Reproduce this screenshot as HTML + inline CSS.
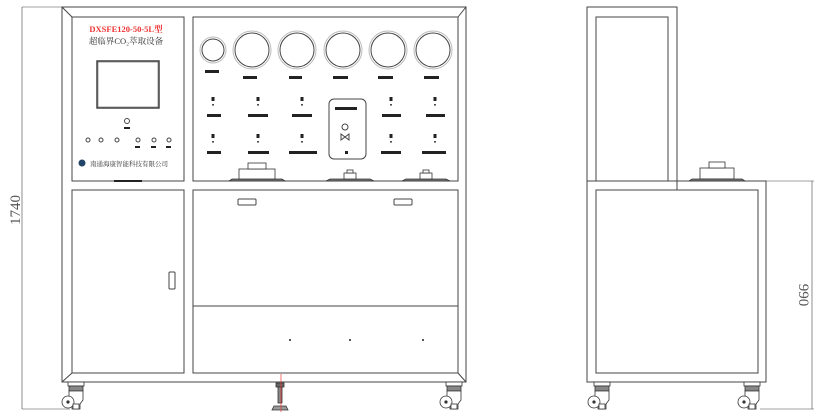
<!DOCTYPE html>
<html><head><meta charset="utf-8"><style>
html,body{margin:0;padding:0;background:#fff;}
svg{display:block;}
text{font-family:"Liberation Serif","Noto Serif CJK SC",serif;}
</style></head><body>
<svg width="820" height="415" viewBox="0 0 820 415" xmlns="http://www.w3.org/2000/svg">
<defs>
<g id="caster" stroke="#333" stroke-width="0.8" fill="#fff">
  <rect x="-8" y="0" width="16" height="4"/>
  <rect x="-7" y="4" width="14" height="5" fill="#888"/>
  <path d="M-7 9 L7 9 L7 18 L4 22 L4 27 L-4 27 L-4 22 L-7 18 Z"/>
  <circle cx="-8" cy="20" r="6"/>
  <circle cx="-8" cy="20" r="1.2" fill="#333"/>
  <rect x="-3" y="22" width="6" height="5"/>
</g>
<g id="valve" fill="#222">
  <rect x="-1.5" y="-8" width="3" height="4"/>
  <rect x="-0.8" y="-1" width="1.6" height="1.6"/>
</g>
<g id="pump" stroke="#333" stroke-width="0.8" fill="#fff">
  <path d="M-20 0 L20 0 L24 2 L-24 2 Z" fill="#777"/>
  <rect x="-6" y="-6" width="12" height="6"/>
  <rect x="-3" y="-9" width="6" height="3"/>
</g>
</defs>
<g fill="none" stroke="#444" stroke-width="1">
<rect x="62" y="7" width="404" height="375"/>
<line x1="62" y1="7" x2="72" y2="17"/><line x1="466" y1="7" x2="458" y2="17"/>
<line x1="62" y1="382" x2="72" y2="373"/><line x1="466" y1="382" x2="458" y2="373"/>
<rect x="72" y="17" width="112" height="164"/>
<rect x="193" y="17" width="265" height="164"/>
<rect x="72" y="190" width="112" height="183"/>
<rect x="193" y="190" width="265" height="183"/>
<line x1="193" y1="306" x2="458" y2="306"/>
<rect x="97" y="61" width="62" height="47" stroke-width="1.5"/>
<rect x="98" y="62" width="60" height="45" stroke-width="0.5"/>
<rect x="238" y="199" width="18" height="6" rx="1"/>
<rect x="394" y="199" width="18" height="6" rx="1"/>
<rect x="169" y="272" width="6" height="17" rx="1"/>
<rect x="329" y="99" width="37" height="60" rx="5"/>
<circle cx="213" cy="50" r="11"/><circle cx="213" cy="50" r="13" stroke="#bbb"/>
<circle cx="252" cy="50" r="17"/><circle cx="252" cy="50" r="19" stroke="#bbb"/>
<circle cx="297" cy="50" r="17"/><circle cx="297" cy="50" r="19" stroke="#bbb"/>
<circle cx="343" cy="50" r="17"/><circle cx="343" cy="50" r="19" stroke="#bbb"/>
<circle cx="388" cy="50" r="17"/><circle cx="388" cy="50" r="19" stroke="#bbb"/>
<circle cx="433" cy="50" r="17"/><circle cx="433" cy="50" r="19" stroke="#bbb"/>
<circle cx="127" cy="121" r="2.5"/>
<circle cx="88" cy="140" r="2"/><circle cx="101" cy="140" r="2"/><circle cx="117" cy="140" r="2"/>
<circle cx="138" cy="140" r="2"/><circle cx="154" cy="140" r="2"/><circle cx="169" cy="140" r="2"/>
<circle cx="345" cy="127" r="3"/>
<path d="M341 134 L349 140 L349 134 L341 140 Z"/>
<rect x="587" y="7" width="90" height="174"/>
<rect x="596" y="17" width="72" height="164"/>
<rect x="587" y="181" width="179" height="201"/>
<line x1="596" y1="190" x2="758" y2="190"/>
<rect x="596" y="190" width="162" height="183"/>
<line x1="677" y1="181" x2="677" y2="190"/>
<line x1="22" y1="7" x2="62" y2="7" stroke-width="0.6"/>
<line x1="22" y1="7" x2="22" y2="409" stroke-width="0.6"/>
<line x1="22" y1="409" x2="70" y2="409" stroke-width="0.6"/>
<line x1="766" y1="181" x2="814" y2="181" stroke-width="0.6"/>
<line x1="812" y1="181" x2="812" y2="409" stroke-width="0.6"/>
<line x1="760" y1="409" x2="814" y2="409" stroke-width="0.6"/>
</g>
<g fill="#222">
<rect x="205" y="70" width="14" height="3"/>
<rect x="243" y="76" width="14" height="3"/><rect x="289" y="76" width="13" height="3"/>
<rect x="333" y="76" width="15" height="3"/><rect x="378" y="76" width="15" height="3"/>
<rect x="424" y="76" width="15" height="3"/>
<rect x="207" y="114" width="14" height="3"/><rect x="248" y="114" width="20" height="3"/>
<rect x="292" y="114" width="20" height="3"/><rect x="382" y="114" width="19" height="3"/>
<rect x="426" y="114" width="19" height="3"/>
<rect x="207" y="151" width="14" height="3"/><rect x="248" y="151" width="21" height="3"/>
<rect x="289" y="151" width="28" height="3"/><rect x="381" y="151" width="20" height="3"/>
<rect x="422" y="151" width="24" height="3"/>
<rect x="335" y="107" width="22" height="3"/><rect x="345" y="151" width="3" height="3"/>
<rect x="124" y="127" width="6" height="2"/>
<rect x="135" y="146" width="5" height="2"/><rect x="151" y="146" width="5" height="2"/><rect x="166" y="146" width="5" height="2"/>
<rect x="114" y="180" width="28" height="2"/>
<circle cx="82" cy="163" r="3.5" fill="#246"/>
<circle cx="290" cy="340" r="1"/><circle cx="350" cy="340" r="1"/><circle cx="423" cy="340" r="1"/>
</g>
<use href="#valve" x="213" y="105"/><use href="#valve" x="258" y="105"/><use href="#valve" x="302" y="105"/>
<use href="#valve" x="391" y="105"/><use href="#valve" x="435" y="105"/>
<use href="#valve" x="213" y="142"/><use href="#valve" x="258" y="142"/><use href="#valve" x="302" y="142"/>
<use href="#valve" x="391" y="142"/><use href="#valve" x="435" y="142"/>
<g stroke="#333" stroke-width="0.8" fill="#fff">
<path d="M232 179 L282 179 L285 181 L229 181 Z" fill="#777"/>
<rect x="239" y="169" width="36" height="10"/><rect x="248" y="163" width="18" height="6"/>
</g>
<use href="#pump" x="350" y="179"/><use href="#pump" x="426" y="179"/>
<g stroke="#333" stroke-width="0.8" fill="#fff">
<rect x="700" y="168" width="34" height="11"/><rect x="709" y="162" width="16" height="6"/>
<path d="M692 179 L742 179 L745 181 L689 181 Z" fill="#777"/>
</g>
<use href="#caster" x="76" y="382"/><use href="#caster" x="454" y="382"/>
<use href="#caster" x="602" y="382"/><use href="#caster" x="752" y="382"/>
<g stroke="#333" stroke-width="0.8">
<rect x="276" y="383" width="8" height="4" fill="#666"/>
<rect x="278" y="387" width="4" height="16" fill="#888"/>
<path d="M274 406 L286 406 L288 410 L272 410 Z" fill="#999"/>
</g>
<line x1="281" y1="374" x2="281" y2="412" stroke="#e33" stroke-width="0.7"/>
<text x="126" y="32" font-size="8.5" fill="#e33" text-anchor="middle" font-weight="bold">DXSFE120-50-5L型</text>
<text x="126" y="44" font-size="8.5" fill="#333" text-anchor="middle">超临界CO₂萃取设备</text>
<text x="129" y="166" font-size="6.5" fill="#333" text-anchor="middle">南通海康智能科技有限公司</text>
<text transform="translate(20,210) rotate(-90)" font-size="15" fill="#555" font-family="Liberation Sans" text-anchor="middle">1740</text>
<text transform="translate(799,295) rotate(90)" font-size="15" fill="#555" font-family="Liberation Sans" text-anchor="middle">990</text>
</svg>
</body></html>
